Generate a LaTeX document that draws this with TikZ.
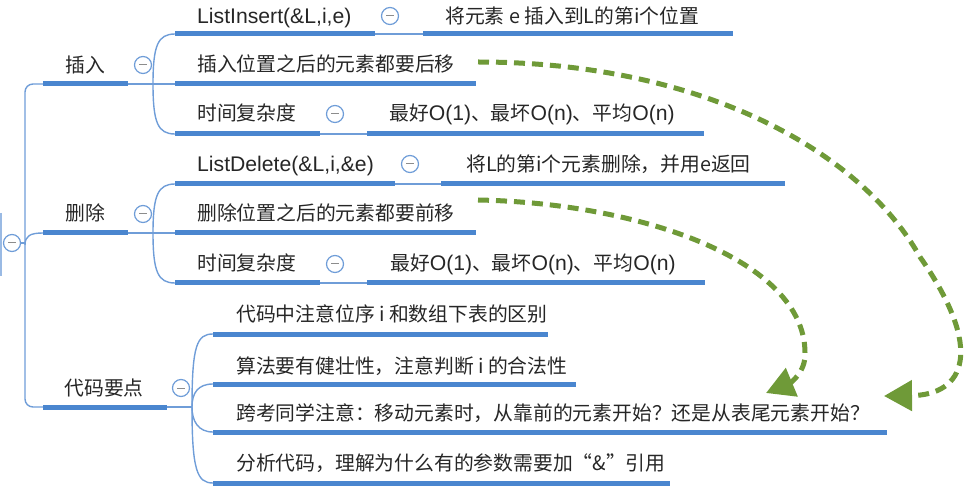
\documentclass[tikz,border=0pt]{standalone}
\usepackage{fontspec}
\setmainfont{Noto Sans CJK SC}
\newfontfamily\lat[Scale=1.07]{Liberation Sans}
\usetikzlibrary{arrows.meta}

\definecolor{mapblue}{HTML}{4A86CF}
\definecolor{linkblue}{HTML}{6F9DD8}
\definecolor{markgreen}{HTML}{6F9A38}

\tikzset{
  txt/.style={anchor=base west, inner sep=0pt, font=\fontsize{19.8}{24}\selectfont, text=black!85},
  topic/.style={txt, anchor=base},
  uline/.style={mapblue, line width=5pt},
  conn/.style={linkblue, line width=1.4pt},
  fold/.style={circle, draw=linkblue, line width=1.2pt, minimum size=17pt, inner sep=0pt, fill=white,
    path picture={\draw[black!45, line width=1pt]
      ([xshift=-4pt]path picture bounding box.center) -- ([xshift=4pt]path picture bounding box.center);}},
  movearrow/.style={markgreen, line width=5pt, dash pattern=on 11pt off 7pt,
    -{Triangle[length=28pt,width=30pt]}}
}

\begin{document}
\begin{tikzpicture}[x=1pt, y=-1pt]
  \useasboundingbox (0,0) rectangle (977,494);

  % points where the branches meet
  \coordinate (insL) at (43,84);   \coordinate (insR) at (128,84);
  \coordinate (delL) at (43,233);  \coordinate (delR) at (128,233);
  \coordinate (codeL) at (43,407); \coordinate (codeR) at (167,407);
  \coordinate (i1S) at (175,34);  \coordinate (i2S) at (175,84);  \coordinate (i3S) at (175,134);
  \coordinate (d1S) at (175,184); \coordinate (d2S) at (175,233); \coordinate (d3S) at (175,283);
  \coordinate (c1S) at (213,334); \coordinate (c2S) at (213,384);
  \coordinate (c3S) at (213,432); \coordinate (c4S) at (213,483);
  \coordinate (i1E) at (375,34);  \coordinate (i1T) at (423,34);
  \coordinate (i3E) at (320,134); \coordinate (i3T) at (367,134);
  \coordinate (d1E) at (395,184); \coordinate (d1T) at (441,184);
  \coordinate (d3E) at (320,283); \coordinate (d3T) at (367,283);

  % trunk
  \draw[linkblue!70, line width=1.4pt] (1,213) -- (1,276);
  \draw[conn, rounded corners=8pt] (insL) -- (25,84) -- (25,407) -- (codeL);
  \draw[conn] (25,245) .. controls (25,236) and (30,233) .. (delL);

  % branch connectors
  \draw[conn] (insR) -- (i2S);
  \draw[conn] (153,84) .. controls (153,45) and (158,34) .. (i1S);
  \draw[conn] (153,84) .. controls (153,123) and (158,134) .. (i3S);
  \draw[conn] (delR) -- (d2S);
  \draw[conn] (153,233) .. controls (153,195) and (158,184) .. (d1S);
  \draw[conn] (153,233) .. controls (153,272) and (158,283) .. (d3S);
  \draw[conn] (codeR) -- (192,407);
  \draw[conn] (192,407) .. controls (192,345) and (197,334) .. (c1S);
  \draw[conn] (192,407) .. controls (192,393) and (198,384) .. (c2S);
  \draw[conn] (192,407) .. controls (192,421) and (198,432) .. (c3S);
  \draw[conn] (192,407) .. controls (192,470) and (197,483) .. (c4S);
  \draw[conn] (i1E) -- (i1T);
  \draw[conn] (i3E) -- (i3T);
  \draw[conn] (d1E) -- (d1T);
  \draw[conn] (d3E) -- (d3T);

  % underlines
  \draw[uline] (insL) -- (insR);
  \draw[uline] (delL) -- (delR);
  \draw[uline] (codeL) -- (codeR);
  \draw[uline] (i1S) -- (i1E);  \draw[uline] (i1T) -- (733,34);
  \draw[uline] (i2S) -- (476,84);
  \draw[uline] (i3S) -- (i3E);  \draw[uline] (i3T) -- (704,134);
  \draw[uline] (d1S) -- (d1E);  \draw[uline] (d1T) -- (785,184);
  \draw[uline] (d2S) -- (476,233);
  \draw[uline] (d3S) -- (d3E);  \draw[uline] (d3T) -- (705,283);
  \draw[uline] (c1S) -- (548,334);
  \draw[uline] (c2S) -- (576,384);
  \draw[uline] (c3S) -- (887,432);
  \draw[uline] (c4S) -- (670,483);

  % topics
  \node[fold] (root) at (12,243) {};
  \draw[conn] (root.east) -- (25,243);
  \node[topic] (ins) at (85,73) {插入};
  \node[fold] (insF) at (143,65) {};
  \node[topic] (del) at (85,221) {删除};
  \node[fold] (delF) at (143,214) {};
  \node[topic] (code) at (104,395) {代码要点};
  \node[fold] (codeF) at (181,388) {};

  % insert
  \node[txt] (ins1) at (197,24) {\lat ListInsert(\&L,i,e)};
  \node[fold] (ins1F) at (390,16) {};
  \node[txt] (ins1a) at (445,24) {将元素 e 插入到L的第i个位置};
  \node[txt] (ins2) at (197,72) {插入位置之后的元素都要后移};
  \node[txt] (ins3) at (197,121) {时间复杂度};
  \node[fold] (ins3F) at (335,114) {};
  \node[txt] (ins3a) at (389,121) {最好{\lat O(1)}、最坏{\lat O(n)}、平均{\lat O(n)}};

  % delete
  \node[txt] (del1) at (197,172) {\lat ListDelete(\&L,i,\&e)};
  \node[fold] (del1F) at (410,164) {};
  \node[txt] (del1a) at (466,172) {将L的第i个元素删除，并用e返回};
  \node[txt] (del2) at (197,221) {删除位置之后的元素都要前移};
  \node[txt] (del3) at (197,271) {时间复杂度};
  \node[fold] (del3F) at (335,264) {};
  \node[txt] (del3a) at (390,271) {最好{\lat O(1)}、最坏{\lat O(n)}、平均{\lat O(n)}};

  % code notes
  \node[txt] (code1) at (236,322) {代码中注意位序 i 和数组下表的区别};
  \node[txt] (code2) at (236,373) {算法要有健壮性，注意判断 i 的合法性};
  \node[txt] (code3) at (236,420) {跨考同学注意：移动元素时，从靠前的元素开始？还是从表尾元素开始？};
  \node[txt] (code4) at (236,470) {分析代码，理解为什么有的参数需要加“\&”引用};

  % green arrows
  \coordinate (mvA) at (478,62);  \coordinate (mvAend) at (884,396);
  \coordinate (mvB) at (478,200); \coordinate (mvBend) at (766,393);
  \draw[movearrow] (mvA) .. controls (700,62) and (860,150) .. (920,257)
    .. controls (985,350) and (965,395) .. (mvAend);
  \draw[movearrow] (mvB) .. controls (640,203) and (805,260) .. (805,353)
    .. controls (806,372) and (790,383) .. (mvBend);
\end{tikzpicture}
\end{document}
